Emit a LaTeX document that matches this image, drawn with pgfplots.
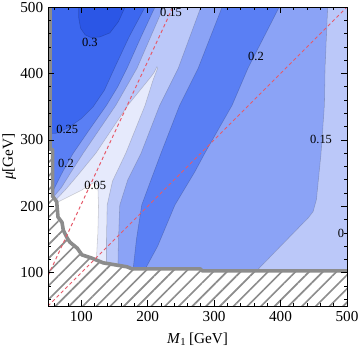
\documentclass[border=0pt]{standalone}
\usepackage{fontspec}
\setmainfont{Liberation Serif}
\usepackage{pgfplots}
\pgfplotsset{compat=1.18}
\usetikzlibrary{patterns.meta}
\definecolor{cC}{HTML}{2B56E6}
\definecolor{cB}{HTML}{3C67EF}
\definecolor{cA}{HTML}{5A7FF4}
\definecolor{cM}{HTML}{8BA3F6}
\definecolor{cL}{HTML}{BBC8F9}
\definecolor{cV}{HTML}{E6EAFC}
\definecolor{hatchgray}{HTML}{8C8C8C}
\definecolor{redline}{HTML}{E65A6A}
\begin{document}
\begin{tikzpicture}
\begin{axis}[
  at={(0,0)}, anchor=south west,
  width=216pt, height=216pt, scale only axis,
  xmin=50, xmax=500, ymin=50, ymax=500,
  xtick={100,200,300,400,500}, ytick={100,200,300,400,500},
  minor xtick={60,80,...,500}, minor ytick={60,80,...,500},
  tick align=inside,
  major tick length=4.5pt, minor tick length=2.4pt,
  axis line style={line width=0.6pt},
  every tick/.style={black, line width=0.5pt},
  tick label style={font=\fontsize{11}{12}\selectfont},
  /pgf/number format/assume math mode=true,
  xlabel={\textit{M}\textsubscript{1}\,[GeV]},
  label style={font=\fontsize{11}{12}\selectfont},
  xlabel style={at={(axis description cs:0.5,0)}, anchor=center, yshift=-24pt},
  axis on top,
  contour/.style={draw=black, draw opacity=0.18, line width=0.4pt},
]
% base band 0.15-0.2
\addplot[fill=cM, draw=none] coordinates {(40,40) (510,40) (510,510) (40,510)} -- cycle;
% valley < 0.15
\addplot[fill=cL, contour] coordinates {(226,510) (224,500) (184,408) (152,352) (103,280) (85,252) (70,228) (58,214) (45,200) (45,60) (155,60) (155,100) (156,150) (158,202) (170,240) (190,280) (218,352) (246,408) (280,500) (282,510)} -- cycle;
% spike < 0.1
\addplot[fill=cV, contour] coordinates {(214,410) (210,402) (205,395) (170,352) (122,280) (95,247) (78,227) (62,210) (45,198) (45,60) (138,60) (138,105) (138,150) (139,202) (147,238) (167,280) (196,352) (208,390) (213,403) (215,408)} -- cycle;
% white < 0.05
\addplot[fill=white, contour] coordinates {(45,195) (62,205) (80,214) (100,224) (114,233) (120,236) (125,231) (126,200) (125,160) (123,125) (123,60) (45,60)} -- cycle;
% left > 0.2
\addplot[fill=cA, contour] coordinates {(40,510) (212,510) (211,500) (190,455) (169,408) (155,380) (138,352) (112,315) (88,280) (78,263) (70,248) (62,232) (56,220) (40,205)} -- cycle;
% left > 0.25
\addplot[fill=cB, contour] coordinates {(40,510) (197,510) (196,500) (172,455) (150,408) (135,375) (118,350) (100,332) (80,318) (62,310) (40,309)} -- cycle;
% > 0.3
\addplot[fill=cC, contour] coordinates {(96,510) (96,485) (99,468) (106,458) (115,454) (128,455) (143,461) (156,478) (166,500) (168,510)} -- cycle;
% ridge > 0.2
\addplot[fill=cA, contour] coordinates {(178,60) (178,105) (183,150) (191,202) (205,240) (220,280) (248,352) (276,408) (312,500) (314,510) (400,510) (398,500) (351,408) (327,352) (286,280) (271,252) (241,202) (215,140) (196,105) (196,60)} -- cycle;
% far right < 0.15
\addplot[fill=cL, contour] coordinates {(473,510) (471,500) (467,408) (466,352) (461,280) (454,210) (449,192) (442,183) (364,103) (364,60) (510,60) (510,510)} -- cycle;
% excluded region: white ground, hatching, border
\addplot[fill=white, draw=none] coordinates {(45,287) (57,285) (57,215) (63,207) (65,184) (71,176) (73,164) (79,152) (83,146) (94,137) (101,127) (116,122) (133,115) (169,109) (176,106) (279,106) (282,103) (510,103) (510,40) (45,40)} -- cycle;
\addplot[pattern={Lines[angle=45,distance=7pt,line width=1.2pt]}, pattern color=hatchgray, draw=none] coordinates {(45,287) (57,285) (57,215) (63,207) (65,184) (71,176) (73,164) (79,152) (83,146) (94,137) (101,127) (116,122) (133,115) (169,109) (176,106) (279,106) (282,103) (510,103) (510,40) (45,40)} -- cycle;
\addplot[fill=hatchgray, draw=none] coordinates {(45,284) (55.5,284) (55.5,510) (45,510)} -- cycle;
\addplot[draw=hatchgray, line width=2.6pt, line join=round] coordinates {(53,287) (57,285) (57,215) (63,207) (65,184) (71,176) (73,164) (79,152) (83,146) (94,137) (101,127) (116,122) (133,115) (169,109) (176,106) (279,106) (282,103) (510,103)};
% red dashed lines
\addplot[redline, dash pattern=on 2.4pt off 2pt, line width=0.7pt] coordinates {(50,50) (500,500)};
\addplot[redline, dash pattern=on 2.4pt off 2pt, line width=0.7pt] coordinates {(50,95.5) (238.1,500)};
% contour labels
\begin{scope}[every node/.style={font=\fontsize{9}{10}\selectfont, inner sep=0pt}]
\node at (113,446) {0.3};
\node at (79,316) {0.25};
\node at (77,264) {0.2};
\node at (121,232) {0.05};
\node at (235,492) {0.15};
\node at (363,425) {0.2};
\node at (461,300) {0.15};
\node at (491,160) {0};
\end{scope}
\end{axis}
\node[rotate=90, font=\fontsize{11}{12}\selectfont] at (-28pt,108pt) {\textit{μ}[GeV]};
\pgfresetboundingbox
\useasboundingbox (-34.7pt,-30.3pt) rectangle (225.4pt,221.1pt);
\end{tikzpicture}
\end{document}
